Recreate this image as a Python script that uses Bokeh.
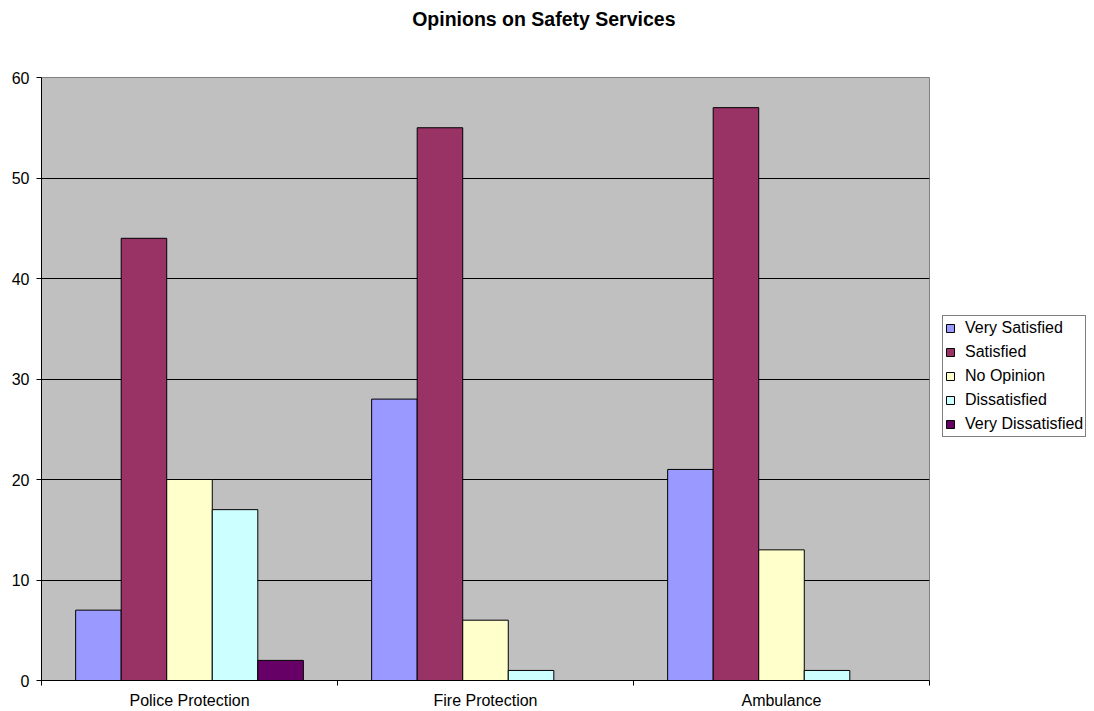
import numpy as np
from bokeh.plotting import figure
from bokeh.layouts import row
from bokeh.models import Range1d, FixedTicker, Legend, LegendItem, LinearAxis
from bokeh.embed import file_html
from bokeh.resources import INLINE

categories = ["Police Protection", "Fire Protection", "Ambulance"]
series = ["Very Satisfied", "Satisfied", "No Opinion", "Dissatisfied", "Very Dissatisfied"]
very_satisfied = [7, 28, 21]
satisfied = [44, 55, 57]
no_opinion = [20, 6, 13]
dissatisfied = [17, 1, 1]
very_dissatisfied = [2, 0, 0]
colors = ["#9999FF", "#993366", "#FFFFCC", "#CCFFFF", "#660066"]
y_ticks = [0, 10, 20, 30, 40, 50, 60]

values = [very_satisfied, satisfied, no_opinion, dissatisfied, very_dissatisfied]

FONT = "Liberation Sans"

p = figure(width=930, height=711, output_backend="svg", toolbar_location=None,
           x_range=Range1d(0, len(categories)), y_range=Range1d(0, 60),
           min_border_left=41, min_border_right=1, min_border_top=76, min_border_bottom=31)

p.background_fill_color = "#C0C0C0"
p.border_fill_color = "white"
p.outline_line_color = "#808080"

p.title.text = "Opinions on Safety Services"
p.title.text_font = FONT
p.title.text_font_size = "19.5px"
p.title.text_font_style = "bold"
p.title.text_color = "black"
p.title.align = "right"
p.title.offset = 254
p.title.vertical_align = "bottom"
p.title.standoff = 10

xa = p.below[0]
ya = p.left[0]

# invisible spacer between title and plot area
spacer = LinearAxis(ticker=FixedTicker(ticks=[1.5]), axis_line_color=None,
                    major_tick_line_color=None, minor_tick_line_color=None,
                    major_tick_out=43, major_tick_in=0, minor_tick_out=0,
                    major_label_standoff=0, major_label_overrides={1.5: ""},
                    major_label_text_font_size="1px")
p.add_layout(spacer, "above")

bw = 1.0 / 6.5
centers = np.arange(len(categories)) + 0.5
for i, (name, vals, col) in enumerate(zip(series, values, colors)):
    xs = centers + (i - 2) * bw
    p.vbar(x=xs, top=vals, bottom=0, width=bw, fill_color=col,
           line_color="black", line_width=1)

p.xgrid.visible = False
p.ygrid.grid_line_color = "black"
p.ygrid.grid_line_width = 1
p.ygrid.ticker = FixedTicker(ticks=y_ticks)

xa.ticker = FixedTicker(ticks=list(centers), minor_ticks=list(range(len(categories) + 1)))
xa.major_label_overrides = {float(c): lab for c, lab in zip(centers, categories)}
xa.major_tick_line_color = None
xa.major_tick_out = 0
xa.major_tick_in = 0
xa.minor_tick_line_color = "black"
xa.minor_tick_out = 5
xa.minor_tick_in = 0
xa.major_label_standoff = 6
xa.axis_line_color = "black"
xa.major_label_text_font = FONT
xa.major_label_text_font_size = "16px"
xa.major_label_text_color = "black"

ya.ticker = FixedTicker(ticks=y_ticks)
ya.major_tick_out = 5
ya.major_tick_in = 0
ya.minor_tick_line_color = None
ya.major_label_standoff = 7
ya.axis_line_color = "black"
ya.major_label_text_font = FONT
ya.major_label_text_font_size = "16px"
ya.major_label_text_color = "black"

# legend panel: the same series drawn small, hidden behind the opaque legend box
pl = figure(width=164, height=711, output_backend="svg", toolbar_location=None,
            x_range=Range1d(-10, 13), y_range=Range1d(-385, 474), min_border=0)
pl.axis.visible = False
pl.grid.visible = False
pl.outline_line_color = None
pl.background_fill_color = "white"
items = []
for i, (name, vals, col) in enumerate(zip(series, values, colors)):
    xs = centers + (i - 2) * bw
    r = pl.vbar(x=xs, top=vals, bottom=0, width=bw, fill_color=col,
                line_color="black", line_width=1)
    items.append(LegendItem(label=name, renderers=[r]))

legend = Legend(items=items, location=(12, 243))
legend.border_line_color = "black"
legend.border_line_width = 1
legend.background_fill_color = "white"
legend.background_fill_alpha = 1
legend.label_text_font = FONT
legend.label_text_font_size = "16px"
legend.label_text_color = "black"
legend.glyph_width = 10
legend.glyph_height = 10
legend.label_height = 20
legend.spacing = 4
legend.padding = 2
legend.margin = 0
legend.label_standoff = 10
pl.add_layout(legend, "center")

layout = row(p, pl, spacing=0)
open("out.html", "w").write(file_html(layout, INLINE))
